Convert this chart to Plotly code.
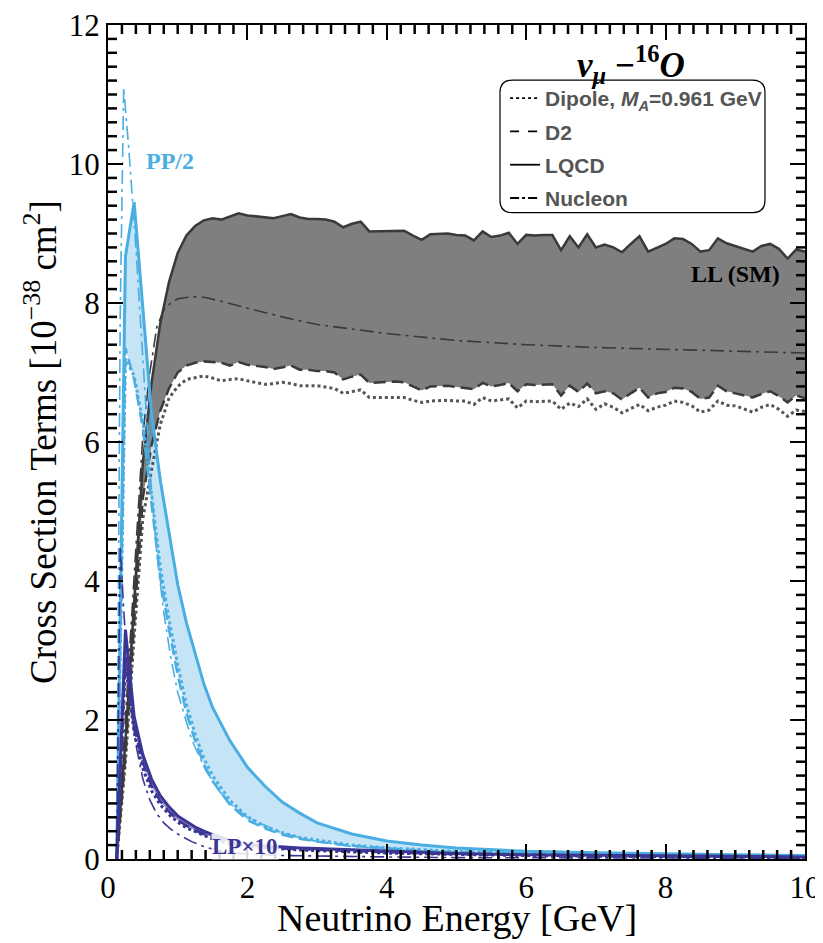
import numpy as np
import plotly.graph_objects as go

# ---------------- data ----------------
# common energy grid for LL / lattice results (GeV)
E_grid = np.round(np.arange(1, 81) * 0.125, 3)

LL_LQCD = [0, 1.7, 3.7, 5.7, 6.85, 7.71, 8.3, 8.72, 8.97, 9.11, 9.19, 9.22, 9.2, 9.25, 9.29, 9.26,
           9.25, 9.24, 9.22, 9.25, 9.28, 9.23, 9.21, 9.21, 9.2, 9.17, 9.09, 9.14, 9.17, 9.03, 9.03,
           9.03, 9.04, 9.04, 8.97, 8.91, 8.99, 9.0, 9.0, 8.98, 8.97, 8.9, 9.03, 8.95, 8.97, 9.01,
           8.85, 8.98, 8.97, 8.98, 8.98, 8.76, 8.96, 8.8, 8.99, 8.8, 8.84, 8.8, 8.73, 8.85, 8.96,
           8.74, 8.8, 8.85, 8.93, 8.92, 8.85, 8.74, 8.76, 8.93, 8.86, 8.82, 8.78, 8.74, 8.82, 8.85,
           8.78, 8.64, 8.77, 8.74]
LL_D2 = [0, 1.5, 3.4, 5.2, 5.95, 6.45, 6.77, 7.0, 7.1, 7.14, 7.16, 7.15, 7.14, 7.1, 7.15, 7.11,
         7.1, 7.08, 7.05, 7.08, 7.1, 7.04, 7.04, 7.02, 7.02, 7.0, 6.9, 6.94, 6.97, 6.85, 6.86,
         6.86, 6.87, 6.86, 6.8, 6.74, 6.8, 6.81, 6.81, 6.79, 6.78, 6.76, 6.85, 6.8, 6.82, 6.85,
         6.73, 6.83, 6.82, 6.83, 6.83, 6.67, 6.81, 6.72, 6.84, 6.7, 6.73, 6.7, 6.61, 6.7, 6.78,
         6.64, 6.7, 6.72, 6.78, 6.77, 6.72, 6.62, 6.64, 6.81, 6.73, 6.7, 6.67, 6.64, 6.69, 6.73,
         6.66, 6.57, 6.67, 6.63]
LL_Dipole = [0, 1.4, 3.2, 4.9, 5.6, 6.25, 6.63, 6.8, 6.9, 6.93, 6.95, 6.92, 6.88, 6.9, 6.91, 6.88,
             6.85, 6.83, 6.84, 6.86, 6.84, 6.81, 6.81, 6.81, 6.79, 6.77, 6.7, 6.73, 6.75, 6.64, 6.64,
             6.64, 6.65, 6.64, 6.6, 6.57, 6.59, 6.6, 6.6, 6.59, 6.59, 6.54, 6.64, 6.59, 6.6, 6.62,
             6.49, 6.59, 6.58, 6.59, 6.59, 6.47, 6.56, 6.51, 6.62, 6.47, 6.55, 6.5, 6.42, 6.48, 6.54,
             6.45, 6.5, 6.53, 6.59, 6.57, 6.52, 6.43, 6.46, 6.59, 6.53, 6.52, 6.48, 6.43, 6.5, 6.54,
             6.47, 6.37, 6.46, 6.44]

# coarser grid for PP/2 and LPx10 terms
E_pl = [0.125, 0.25, 0.375, 0.5, 0.625, 0.75, 0.875, 1.0, 1.125, 1.25, 1.375, 1.5, 1.75, 2.0,
        2.25, 2.5, 2.75, 3.0, 3.5, 4.0, 4.5, 5.0, 6.0, 7.0, 8.0, 9.0, 10.0]
PP_LQCD = [0, 8.67, 9.45, 7.9, 6.4, 5.45, 4.7, 3.95, 3.4, 2.95, 2.52, 2.18, 1.7, 1.32,
           1.05, 0.82, 0.66, 0.52, 0.36, 0.26, 0.2, 0.16, 0.11, 0.09, 0.07, 0.06, 0.05]
PP_D2 = [0, 7.35, 6.9, 6.2, 5.1, 4.05, 3.3, 2.65, 2.1, 1.7, 1.36, 1.12, 0.78, 0.56,
         0.44, 0.35, 0.29, 0.25, 0.19, 0.15, 0.12, 0.1, 0.08, 0.06, 0.05, 0.045, 0.04]
PP_Dipole = [0, 7.2, 6.95, 6.3, 5.25, 4.2, 3.45, 2.8, 2.22, 1.8, 1.45, 1.2, 0.84, 0.61,
             0.47, 0.38, 0.31, 0.27, 0.2, 0.16, 0.13, 0.11, 0.08, 0.065, 0.055, 0.045, 0.04]
LP_LQCD = [0, 3.3, 2.05, 1.5, 1.15, 0.91, 0.75, 0.62, 0.54, 0.46, 0.4, 0.35, 0.27, 0.22,
           0.19, 0.17, 0.16, 0.15, 0.13, 0.11, 0.095, 0.08, 0.06, 0.05, 0.04, 0.035, 0.03]
LP_D2 = [0, 2.9, 1.9, 1.38, 1.05, 0.83, 0.68, 0.56, 0.48, 0.41, 0.36, 0.31, 0.24, 0.2,
         0.17, 0.15, 0.14, 0.13, 0.11, 0.095, 0.08, 0.07, 0.055, 0.045, 0.035, 0.03, 0.025]
LP_Dipole = [0, 2.8, 1.82, 1.3, 0.98, 0.78, 0.64, 0.53, 0.45, 0.39, 0.34, 0.29, 0.22, 0.18,
             0.16, 0.14, 0.13, 0.12, 0.1, 0.085, 0.075, 0.065, 0.05, 0.04, 0.03, 0.028, 0.022]

# free-nucleon curves
E_nuc = [0.125, 0.175, 0.225, 0.3, 0.4, 0.5, 0.6, 0.7, 0.8, 0.9, 1.0, 1.2, 1.4, 1.6, 1.8, 2.0,
         2.5, 3.0, 3.5, 4.0, 5.0, 6.0, 7.0, 8.0, 9.0, 10.0]
LL_Nucleon = [0, 0.8, 1.6, 2.85, 4.5, 6.1, 7.0, 7.65, 7.9, 8.0, 8.06, 8.09, 8.08, 8.03, 7.98, 7.93,
              7.8, 7.69, 7.62, 7.56, 7.46, 7.40, 7.36, 7.33, 7.30, 7.28]
PP_Nucleon = [0, 7.8, 11.1, 10.2, 8.8, 7.25, 5.6, 4.4, 3.55, 2.9, 2.4, 1.72, 1.28, 0.97, 0.75, 0.6,
              0.37, 0.25, 0.18, 0.14, 0.09, 0.065, 0.05, 0.04, 0.035, 0.03]
LP_Nucleon = [0, 4.5, 3.6, 2.4, 1.65, 1.15, 0.85, 0.65, 0.52, 0.43, 0.36, 0.25, 0.17, 0.12, 0.09, 0.07,
              0.05, 0.04, 0.035, 0.03, 0.02, 0.02, 0.015, 0.015, 0.01, 0.01]

legend_labels = ["Dipole, <i>M<sub>A</sub></i>=0.961 GeV", "D2", "LQCD", "Nucleon"]

# minor tick positions (every 0.2, majors every 2 handled by the axes)
x_minor = [round(0.2 * i, 1) for i in range(51) if i % 10 != 0]
y_minor = [round(0.2 * i, 1) for i in range(61) if i % 10 != 0]

# ---------------- styles ----------------
C_LL = "#3a3a3a"
C_LLDOT = "#555555"
C_PP = "#4aaee2"
C_LP = "#3b3594"
DOT = "3px,3px"
DASH = "12px,6px"
DASHDOT = "14px,5px,3px,5px"
SERIF = "Liberation Serif"
SANS = "Liberation Sans"
PLOT_W, PLOT_H = 697, 834      # plot-area size in px
MINOR_LEN = 9

fig = go.Figure()


def band(x, lo, hi, color):
    fig.add_trace(go.Scatter(x=x, y=lo, mode="lines", line=dict(width=0),
                             showlegend=False, hoverinfo="skip"))
    fig.add_trace(go.Scatter(x=x, y=hi, mode="lines", line=dict(width=0), fill="tonexty",
                             fillcolor=color, showlegend=False, hoverinfo="skip"))


def line(x, y, color, width, dash):
    fig.add_trace(go.Scatter(x=x, y=y, mode="lines", line=dict(color=color, width=width, dash=dash),
                             showlegend=False, hoverinfo="skip"))


# fills
band(E_grid, LL_D2, LL_LQCD, "rgba(0,0,0,0.5)")
band(E_pl, PP_D2, PP_LQCD, "rgba(74,174,226,0.32)")
band(E_pl, LP_D2, LP_LQCD, "rgba(59,53,148,0.55)")

# LL lines
line(E_grid, LL_Dipole, C_LLDOT, 3, DOT)
line(E_grid, LL_D2, C_LL, 2.5, DASH)
line(E_grid, LL_LQCD, C_LL, 2.5, "solid")
line(E_nuc, LL_Nucleon, C_LL, 1.6, DASHDOT)

# PP lines
line(E_pl, PP_Dipole, C_PP, 3, DOT)
line(E_pl, PP_D2, C_PP, 2.5, DASH)
line(E_pl, PP_LQCD, C_PP, 3, "solid")
line(E_nuc, PP_Nucleon, C_PP, 1.6, DASHDOT)

# LP lines
line(E_pl, LP_Dipole, C_LP, 3, DOT)
line(E_pl, LP_D2, C_LP, 2.5, DASH)
line(E_pl, LP_LQCD, C_LP, 3, "solid")
line(E_nuc, LP_Nucleon, C_LP, 1.6, DASHDOT)

# legend entries
for i, (lab, d) in enumerate(zip(legend_labels, ["dot", "dash", "solid", "dashdot"])):
    fig.add_trace(go.Scatter(x=[None], y=[None], mode="lines", name="<b>" + lab + "</b>",
                             legendgroup=str(i),
                             line=dict(color="black", width=1.8, dash=d)))

# minor ticks on all four sides (axis decorations positioned on the axes' own scales)
tick_line = dict(color="black", width=2.5)
for v in x_minor:
    fig.add_shape(type="line", xref="x", yref="y domain", x0=v, x1=v, y0=0, y1=MINOR_LEN / PLOT_H,
                  line=tick_line, layer="above")
    fig.add_shape(type="line", xref="x", yref="y domain", x0=v, x1=v, y0=1, y1=1 - MINOR_LEN / PLOT_H,
                  line=tick_line, layer="above")
for v in y_minor:
    fig.add_shape(type="line", xref="x domain", yref="y", y0=v, y1=v, x0=0, x1=MINOR_LEN / PLOT_W,
                  line=tick_line, layer="above")
    fig.add_shape(type="line", xref="x domain", yref="y", y0=v, y1=v, x0=1, x1=1 - MINOR_LEN / PLOT_W,
                  line=tick_line, layer="above")

# rounded legend frame (paper coords)
x0, x1, y0, y1 = 0.5624, 0.9426, 0.775, 0.934
rx, ry = 0.018, 0.015
path = (f"M {x0+rx},{y1} L {x1-rx},{y1} Q {x1},{y1} {x1},{y1-ry} L {x1},{y0+ry} "
        f"Q {x1},{y0} {x1-rx},{y0} L {x0+rx},{y0} Q {x0},{y0} {x0},{y0+ry} "
        f"L {x0},{y1-ry} Q {x0},{y1} {x0+rx},{y1} Z")
fig.add_shape(type="path", path=path, xref="paper", yref="paper",
              line=dict(color="black", width=1.2), fillcolor="rgba(0,0,0,0)")

annots = [
    dict(x=0.89, y=10.04, xref="x", yref="y", text="<b>PP/2</b>",
         font=dict(family=SERIF, size=24, color=C_PP)),
    dict(x=9.0, y=8.42, xref="x", yref="y", text="<b>LL (SM)</b>",
         font=dict(family=SERIF, size=24, color="black")),
    dict(x=1.97, y=0.18, xref="x", yref="y", text="<b>LP×10</b>", bgcolor="rgba(255,255,255,0.85)",
         borderpad=0, font=dict(family=SERIF, size=23, color=C_LP)),
    dict(x=0.83, y=0.985, xref="paper", yref="paper", xanchor="right", yanchor="top",
         text="<b><i>ν<sub>μ</sub></i> −<sup>16</sup><i>O</i></b>",
         font=dict(family=SERIF, size=35, color="black")),
    # axis titles
    dict(x=0.5, y=-0.0707, xref="paper", yref="paper", xanchor="center", yanchor="middle",
         text="Neutrino Energy [GeV]", font=dict(family=SERIF, size=38, color="black")),
    dict(x=-0.0976, y=0.5, xref="paper", yref="paper", xanchor="center", yanchor="middle",
         textangle=-90, text="Cross Section Terms [10<sup>−38</sup> cm<sup>2</sup>]",
         font=dict(family=SERIF, size=37, color="black")),
]
for a in annots:
    fig.add_annotation(showarrow=False, **a)

axis_common = dict(
    showline=True, linecolor="black", linewidth=2, mirror="allticks",
    ticks="inside", ticklen=15, tickwidth=2, tickcolor="black",
    showgrid=False, zeroline=False, automargin=False, ticklabeloverflow="allow",
    tickfont=dict(family=SERIF, size=31, color="black"),
)

fig.update_layout(
    width=815, height=935,
    margin=dict(l=100, r=18, t=17, b=84, autoexpand=False),
    plot_bgcolor="white", paper_bgcolor="white",
    showlegend=True,
    xaxis=dict(range=[0, 10], dtick=2, tick0=0, **axis_common),
    yaxis=dict(range=[0, 12], dtick=2, tick0=0, **axis_common),
    legend=dict(x=0.5697, y=0.9365, xanchor="left", yanchor="top",
                bgcolor="rgba(0,0,0,0)", borderwidth=0,
                font=dict(family=SANS, size=21, color="#555555"),
                tracegroupgap=3, traceorder="grouped", itemwidth=30),
)

fig.write_html("out.html")
